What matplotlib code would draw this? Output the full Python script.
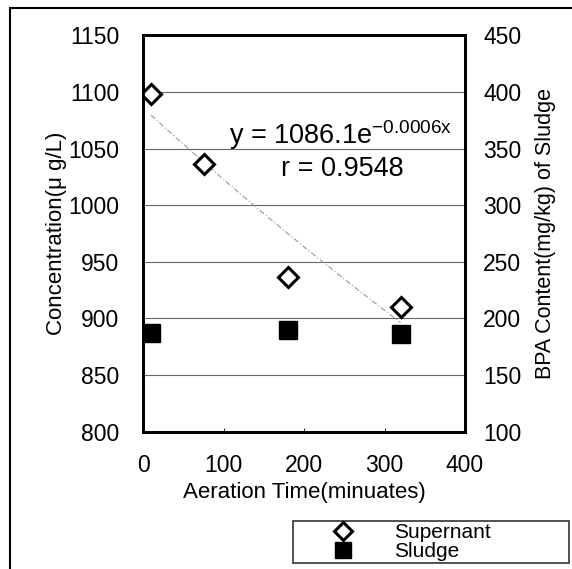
import numpy as np
import matplotlib
matplotlib.use('Agg')
import matplotlib.pyplot as plt
from matplotlib.patches import Rectangle

plt.rcParams['font.family'] = ['Liberation Sans', 'DejaVu Sans']

# data
time_sup = [10, 76, 180, 320]
conc_sup = [1098.5, 1036, 937, 910]
time_sludge = [10, 180, 320]
bpa_sludge = [187, 189.5, 186]

# fitted curve y = 1086.1 e^(-0.0006x)
fit_a = 1086.1
fit_b = -0.0006
fit_x = np.linspace(10, 320, 50)
fit_y = fit_a * np.exp(fit_b * fit_x)

fig = plt.figure(figsize=(5.72, 5.69), dpi=100)
ax = fig.add_axes([0.25, 0.2413, 0.563, 0.6965])
ax2 = ax.twinx()

for y in [850, 900, 950, 1000, 1050, 1100]:
    ax.axhline(y, color='#666666', linewidth=0.8, zorder=0)

ax.plot(fit_x, fit_y, color='#999999', linestyle=(0, (5, 2, 1, 2)), linewidth=0.8, zorder=1)
sup_line, = ax.plot(time_sup, conc_sup, linestyle='none', marker='D', markersize=10.5,
                    markerfacecolor='white', markeredgecolor='black', markeredgewidth=2.2, zorder=3)
sl_line, = ax2.plot(time_sludge, bpa_sludge, linestyle='none', marker='s', markersize=13,
                    color='black', zorder=3)

ax.set_xlim(0, 400)
ax.set_ylim(800, 1150)
ax2.set_ylim(100, 450)
ax.set_xticks([0, 100, 200, 300, 400])
ax.set_yticks(np.arange(800, 1151, 50))
ax2.set_yticks(np.arange(100, 451, 50))

ax.tick_params(axis='y', direction='in', length=0, labelsize=16.5, pad=17)
ax.tick_params(axis='x', direction='in', length=3, width=0.6, labelsize=16.5, pad=16)
ax2.tick_params(axis='y', direction='in', length=0, labelsize=16.5, pad=13)
for a in (ax, ax2):
    for s in a.spines.values():
        s.set_linewidth(2)

ax.set_xlabel('Aeration Time(minuates)', fontsize=16, labelpad=4)
ax.set_ylabel('Concentration(μ g/L)', fontsize=16, labelpad=1)
ax2.set_ylabel('BPA Content(mg/kg) of Sludge', fontsize=15.5, labelpad=10)

ax.text(0.615, 0.748, r'y = 1086.1e$^{\mathregular{-0.0006x}}$', transform=ax.transAxes,
        fontsize=19.5, ha='center', va='center')
ax.text(0.62, 0.663, 'r = 0.9548', transform=ax.transAxes,
        fontsize=19.5, ha='center', va='center')

# outer frame
fig.patches.append(Rectangle((0.0175, -0.05), 1.0, 1.036, transform=fig.transFigure,
                             fill=False, edgecolor='black', linewidth=1.5))

leg = fig.legend([sup_line, sl_line], ['Supernant', 'Sludge'],
                 loc='lower left', bbox_to_anchor=(0.512, 0.0105, 0.483, 0.086),
                 mode='expand', fontsize=15, frameon=True, fancybox=False,
                 borderpad=0.1, labelspacing=0.0, handletextpad=0.15, markerscale=0.85,
                 handlelength=4.6, borderaxespad=0.0)
leg.get_frame().set_edgecolor('black')
leg.get_frame().set_linewidth(1.2)

fig.savefig('out.png', dpi=100)
